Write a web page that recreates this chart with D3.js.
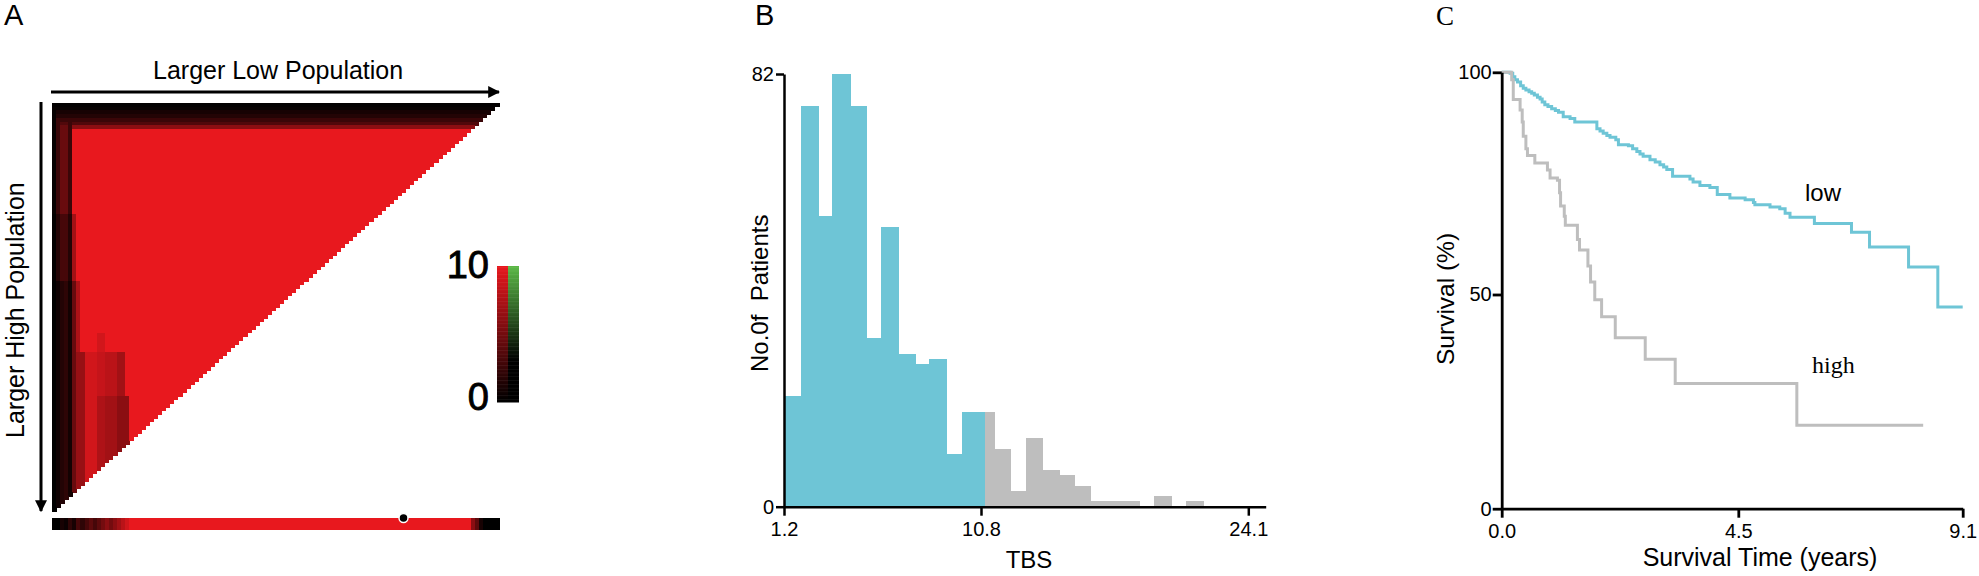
<!DOCTYPE html>
<html>
<head>
<meta charset="utf-8">
<script src="https://cdn.jsdelivr.net/npm/d3@7"></script>
<style>
  html, body { margin: 0; padding: 0; background: #fff; }
  svg { display: block; }
  text { font-family: "Liberation Sans", Arial, sans-serif; fill: #000; }
</style>
</head>
<body>
<div id="vis"></div>
<script>
const WIDTH = 1979;
const HEIGHT = 576;

// panel A: heat triangle, read as column/row shades (value 0-10)
const HEAT_N = 110;
const columnsUpper = [0.3, 2.5, 4.5, 4.5, 2.5];
const columnsMiddle = [0.1, 1.5, 3, 3, 1.5, 7];
const columnsLower = [0, 0.6, 1.5, 2, 0.8, 4.5, 7.5];
const topRows = [0.1, 0.3, 1, 1.5, 2.5, 3.5, 6];
// colStart, colEnd, rowStart, rowEnd, value
const heatPatches = [
  [11, 13, 62, 68, 9],
  [5, 8, 67, 110, 6.5],
  [8, 11, 67, 110, 9],
  [11, 13, 67, 110, 8.5],
  [13, 16, 67, 110, 8],
  [16, 18, 67, 110, 7],
  [11, 13, 79, 110, 7.5],
  [13, 16, 79, 110, 7],
  [16, 19, 79, 110, 6]
];
const stripHead = [0, 0, 1, 0.5, 2, 1, 3, 2, 3, 4, 3, 4, 5, 6, 5, 6, 7, 8, 9];
const stripTail = [6, 4, 1, 0, 0, 0, 0];
const cutCell = 86;
const legendLevels = d3.range(0, 10.01, 0.1);

// panel B: histogram of TBS
const lowEdges = [1.2, 2.03, 2.87, 3.56, 4.42, 5.20, 5.94, 6.79, 7.58, 8.27, 9.11, 9.86, 10.97];
const lowCounts = [21, 76, 55, 82, 76, 32, 53, 29, 27, 28, 10, 18];
const highEdges = [10.97, 11.45, 12.26, 13.02, 13.87, 14.68, 15.44, 16.26, 18.69, 19.39, 20.25, 21.02, 21.86];
const highCounts = [18, 11, 3, 13, 7, 6, 4, 1, 0, 2, 0, 1];

// panel C: survival curves [years, percent]
const lowTimes = [0, 0.16, 0.21, 0.25, 0.30, 0.36, 0.41, 0.46, 0.52, 0.57, 0.62, 0.68, 0.73, 0.77, 0.82, 0.88, 0.95, 1.02, 1.08, 1.17, 1.30, 1.39, 1.81, 1.87, 1.93, 2.00, 2.06, 2.17, 2.22, 2.41, 2.49, 2.57, 2.63, 2.69, 2.82, 2.92, 3.01, 3.08, 3.14, 3.25, 3.58, 3.64, 3.77, 3.96, 4.10, 4.34, 4.64, 4.81, 4.84, 5.15, 5.35, 5.46, 5.56, 6.06, 6.82, 7.19, 7.99, 8.59, 9.1];
const lowSurvival = [100, 99.8, 99.0, 98.3, 97.8, 97.0, 96.4, 96.0, 95.6, 95.3, 94.9, 94.4, 94.0, 93.3, 92.7, 92.3, 91.8, 91.4, 91.0, 90.0, 89.6, 88.8, 87.3, 86.8, 86.3, 85.8, 85.4, 84.8, 83.7, 83.5, 82.8, 82.2, 81.6, 81.1, 80.3, 79.8, 79.2, 78.7, 78.1, 76.6, 76.0, 75.3, 74.5, 74.1, 72.5, 71.7, 71.3, 70.7, 70.2, 69.7, 69.3, 68.3, 67.4, 66.0, 64.0, 60.7, 56.2, 47.1, 47.1];
const highTimes = [0, 0.19, 0.22, 0.35, 0.39, 0.41, 0.46, 0.49, 0.63, 0.87, 0.92, 1.06, 1.10, 1.12, 1.19, 1.21, 1.44, 1.48, 1.64, 1.69, 1.77, 1.90, 2.16, 2.73, 3.30, 5.70, 8.29];
const highSurvival = [100, 98.3, 93.9, 91.5, 88.8, 85.6, 82.8, 81.3, 79.6, 78.0, 76.2, 75.7, 72.9, 69.9, 67.6, 65.6, 62.4, 60.0, 56.4, 52.8, 48.8, 44.8, 39.9, 34.9, 29.2, 19.5, 19.5];

const CYAN = "#6ec5d6";
const GREY = "#bebebe";
const RED = "#e8181e";

const svg = d3.select("#vis").append("svg")
  .attr("width", WIDTH)
  .attr("height", HEIGHT);

function label(txt, x, y, size, rot) {
  const t = svg.append("text")
    .attr("font-size", size)
    .attr("transform", "translate(" + x + "," + y + ")" + (rot ? " rotate(" + rot + ")" : ""))
    .text(txt);
  return t;
}

function styleAxis(g, width, size) {
  g.selectAll("path,line").attr("stroke", "#000").attr("stroke-width", width);
  g.selectAll("text").attr("font-size", size).attr("font-family", '"Liberation Sans", Arial, sans-serif').attr("fill", "#000");
}

// ---- panel A
const heatColor = d3.scaleLinear().domain([0, 10]).range(["#000000", RED]);
const greenColor = d3.scaleLinear().domain([3, 10]).range(["#000000", "#5cb947"]).clamp(true);
const cellX = d3.scaleBand().domain(d3.range(HEAT_N)).range([52, 499]);
const cellY = d3.scaleBand().domain(d3.range(HEAT_N)).range([103, 511]);

function cellValue(c, r) {
  const cols = r < 30 ? columnsUpper : (r < 48 ? columnsMiddle : columnsLower);
  let v = 10;
  if (c < cols.length) v = Math.min(v, cols[c]);
  if (r < topRows.length) v = Math.min(v, topRows[r]);
  heatPatches.forEach(p => {
    if (c >= p[0] && c < p[1] && r >= p[2] && r < p[3]) v = Math.min(v, p[4]);
  });
  return v;
}

const heatCells = [];
d3.range(HEAT_N).forEach(r => {
  d3.range(HEAT_N - r).forEach(c => heatCells.push({c: c, r: r, v: cellValue(c, r)}));
});

svg.append("g").selectAll("rect")
  .data(heatCells)
  .enter().append("rect")
  .attr("x", d => cellX(d.c))
  .attr("y", d => cellY(d.r))
  .attr("width", cellX.bandwidth() + 0.5)
  .attr("height", cellY.bandwidth() + 0.5)
  .attr("fill", d => heatColor(d.v))
  .attr("shape-rendering", "crispEdges");

const stripValues = stripHead
  .concat(d3.range(HEAT_N - stripHead.length - stripTail.length).map(() => 10))
  .concat(stripTail);

svg.append("g").selectAll("rect")
  .data(stripValues)
  .enter().append("rect")
  .attr("x", (d, i) => cellX(i))
  .attr("y", 518)
  .attr("width", cellX.bandwidth() + 0.5)
  .attr("height", 12)
  .attr("fill", d => heatColor(d))
  .attr("shape-rendering", "crispEdges");

svg.append("circle")
  .attr("cx", cellX(cutCell) + cellX.bandwidth() / 2)
  .attr("cy", 518)
  .attr("r", 4.5)
  .attr("fill", "#000")
  .attr("stroke", "#fff")
  .attr("stroke-width", 1.5);

// colour key
const legendY = d3.scaleLinear().domain([0, 10]).range([402, 266]);
const legendH = Math.abs(legendY(0.1) - legendY(0)) + 0.5;
svg.append("g").selectAll("rect")
  .data(legendLevels.slice(0, -1))
  .enter().append("rect")
  .attr("x", 497).attr("width", 11)
  .attr("y", d => legendY(d + 0.1))
  .attr("height", legendH)
  .attr("fill", d => heatColor(d));
svg.append("g").selectAll("rect")
  .data(legendLevels.slice(0, -1))
  .enter().append("rect")
  .attr("x", 508).attr("width", 11)
  .attr("y", d => legendY(d + 0.1))
  .attr("height", legendH)
  .attr("fill", d => greenColor(d));

label("10", 489, 278, 38).attr("text-anchor", "end").attr("stroke", "#000").attr("stroke-width", 0.9);
label("0", 489, 410, 38).attr("text-anchor", "end").attr("stroke", "#000").attr("stroke-width", 0.9);

// arrows
const defs = svg.append("defs");
defs.append("marker")
  .attr("id", "head")
  .attr("viewBox", "0 0 10 10")
  .attr("refX", 9).attr("refY", 5)
  .attr("markerWidth", 4).attr("markerHeight", 4)
  .attr("orient", "auto")
  .append("path").attr("d", "M0,0L10,5L0,10Z").attr("fill", "#000");

svg.append("line").attr("x1", 51).attr("y1", 92).attr("x2", 499).attr("y2", 92)
  .attr("stroke", "#000").attr("stroke-width", 3).attr("marker-end", "url(#head)");
svg.append("line").attr("x1", 41).attr("y1", 102).attr("x2", 41).attr("y2", 511)
  .attr("stroke", "#000").attr("stroke-width", 3).attr("marker-end", "url(#head)");

label("A", 4, 25, 29);
label("Larger Low Population", 153, 79, 25);
label("Larger High Population", 24, 438, 25, -90);

// ---- panel B
const histX = d3.scaleLinear().domain([1.2, 10.8, 24.1, 24.96]).range([784, 981, 1248.3, 1265.7]);
const histY = d3.scaleLinear().domain([0, 82]).range([506.7, 74]);

function drawBars(edges, counts, color) {
  svg.append("g").selectAll("rect")
    .data(counts)
    .enter().append("rect")
    .attr("x", (d, i) => histX(edges[i]))
    .attr("y", d => histY(d))
    .attr("width", (d, i) => histX(edges[i + 1]) - histX(edges[i]) + 0.6)
    .attr("height", d => histY(0) - histY(d))
    .attr("fill", color)
    .attr("shape-rendering", "crispEdges");
}
drawBars(highEdges, highCounts, GREY);
drawBars(lowEdges, lowCounts, CYAN);

const histAxisX = svg.append("g")
  .attr("transform", "translate(0," + histY(0) + ")")
  .call(d3.axisBottom(histX).tickValues([1.2, 10.8, 24.1]).tickFormat(d3.format(".1f")).tickSize(9).tickSizeOuter(0).tickPadding(6));
styleAxis(histAxisX, 2.5, 20);

const histAxisY = svg.append("g")
  .attr("transform", "translate(784,0)")
  .call(d3.axisLeft(histY).tickValues([0, 82]).tickSize(8).tickSizeOuter(0).tickPadding(2));
styleAxis(histAxisY, 2.5, 20);

label("B", 755, 25, 29);
label("No.0f  Patients", 768, 372, 24, -90).style("white-space", "pre");
label("TBS", 1029, 568, 24).attr("text-anchor", "middle");

// ---- panel C
const survX = d3.scaleLinear().domain([0, 4.5, 9.1]).range([1501.7, 1738.3, 1962.7]);
const survY = d3.scaleLinear().domain([0, 50, 100]).range([508.7, 294.5, 72.3]);

const stepLine = d3.line()
  .x(d => survX(d[0]))
  .y(d => survY(d[1]))
  .curve(d3.curveStepAfter);

svg.append("path")
  .datum(d3.zip(lowTimes, lowSurvival))
  .attr("d", stepLine)
  .attr("fill", "none")
  .attr("stroke", CYAN)
  .attr("stroke-width", 3);

svg.append("path")
  .datum(d3.zip(highTimes, highSurvival))
  .attr("d", stepLine)
  .attr("fill", "none")
  .attr("stroke", GREY)
  .attr("stroke-width", 3);

const survAxisX = svg.append("g")
  .attr("transform", "translate(0," + survY(0) + ")")
  .call(d3.axisBottom(survX).tickValues([0, 4.5, 9.1]).tickFormat(d3.format(".1f")).tickSize(9).tickSizeOuter(0).tickPadding(6));
styleAxis(survAxisX, 2.8, 20);

const survAxisY = svg.append("g")
  .attr("transform", "translate(1501.7,0)")
  .call(d3.axisLeft(survY).tickValues([0, 50, 100]).tickSize(9).tickSizeOuter(0).tickPadding(1));
styleAxis(survAxisY, 2.8, 20);

label("C", 1436, 25, 27).style("font-family", '"Liberation Serif", serif');
label("Survival (%)", 1454, 365, 24.5, -90);
label("Survival Time (years)", 1760, 566, 25).attr("text-anchor", "middle");
label("low", 1805, 201, 24);
label("high", 1812, 373, 24).style("font-family", '"Liberation Serif", serif');
</script>
</body>
</html>
